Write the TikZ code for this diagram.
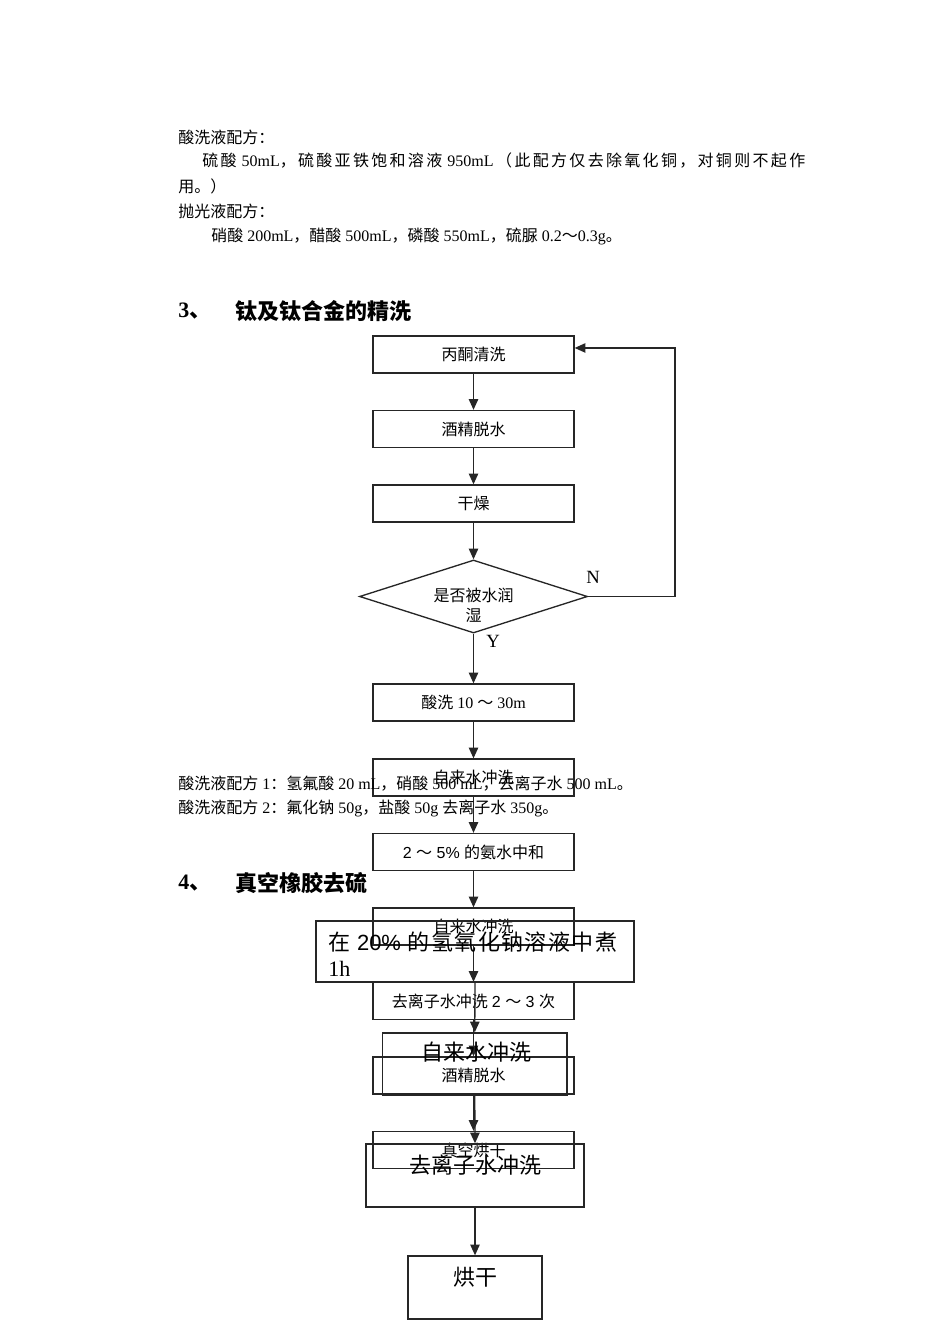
\documentclass[tikz,border=0pt]{standalone}
\usepackage{fontspec}
\setmainfont{Liberation Serif}
\newfontfamily\cjk{Noto Sans CJK SC}
\newfontfamily\arial{Liberation Sans}
\usetikzlibrary{shapes.geometric,arrows.meta}
\newcommand\zh[1]{{\cjk #1}}
\makeatletter
\newcommand\spr[1]{\@tfor\@x:=#1\do{\@x\hfil}}
\makeatother
\begin{document}
\begin{tikzpicture}[x=0.75pt,y=-0.75pt,
  lin/.style={line width=1pt,draw=black!85},
  box/.style={lin,draw,rectangle,minimum width=150.75pt,minimum height=27.75pt,inner sep=0pt,font=\fontsize{12}{14}\selectfont},
  bigbox/.style={lin,draw,rectangle,inner sep=0pt},
  dia/.style={lin,draw,diamond,inner sep=0pt,minimum width=171pt,minimum height=54.75pt},
  arr/.style={lin,-{Triangle[length=8pt,width=7pt]}},
  body/.style={anchor=west,inner sep=0pt,font=\fontsize{12}{14}\selectfont},
  head/.style={anchor=west,inner sep=0pt,font=\fontsize{16.5}{18}\selectfont\bfseries},
  bigtxt/.style={inner sep=0pt,font=\fontsize{16.5}{19.5}\selectfont},
  yn/.style={inner sep=0pt,font=\fontsize{14}{16}\selectfont}
]
\useasboundingbox (0,0) rectangle (950,1344);

% body text
\node[body] (t1) at (178,137) {\zh{酸洗液配方：}};
\node[body] (t2) at (202,161) {\makebox[452.25pt][s]{{\cjk\spr{硫酸}}\hspace{2pt}50mL{\cjk\spr{，硫酸亚铁饱和溶液}}\hspace{2pt}950mL\hspace{2pt}{\cjk\spr{（此配方仅去除氧化铜，对铜则不起}作}}};
\node[body] (t3) at (178,186) {\zh{用。）}};
\node[body] (t4) at (178,211) {\zh{抛光液配方：}};
\node[body] (t5) at (211,236) {\zh{硝酸} 200mL\zh{，醋酸} 500mL\zh{，磷酸} 550mL\zh{，硫脲} 0.2\zh{～}0.3g\zh{。}};

% heading 3
\node[head] (h3n) at (178,311) {3\zh{、}};
\node[head] (h3) at (235,311) {\zh{钛及钛合金的精洗}};

% flowchart 1
\node[box] (s1) at (473.5,354.5) {\zh{丙酮清洗}};
\node[box] (s2) at (473.5,429) {\zh{酒精脱水}};
\node[box] (s3) at (473.5,503.5) {\zh{干燥}};
\node[dia] (d) at (473.5,596.5) {};
\node[align=center,inner sep=0pt,font=\fontsize{12}{15}\selectfont] (dt) at (473.5,605) {\zh{是否被水润}\\\zh{湿}};
\node[box] (s4) at (473.5,702.5) {\zh{酸洗} 10 \zh{～} 30m};
\node[box] (s5) at (473.5,777.5) {\zh{自来水冲洗}};
\node[box] (s6) at (473.5,852) {\arial 2 \zh{～} 5\% \zh{的氨水中和}};
\node[box] (s7) at (473.5,926.5) {\zh{自来水冲洗}};
\node[box] (s8) at (473.5,1001) {\zh{去离子水冲洗} \arial 2 \zh{～} 3 \zh{次}};
\node[box] (s9) at (473.5,1075.5) {\zh{酒精脱水}};
\node[box] (s10) at (473.5,1150) {\zh{真空烘干}};
\node[yn] (n) at (593,577) {N};
\node[yn] (y) at (493,641) {Y};
\coordinate (fb) at (675,596.5);

\draw[arr] (s1) -- (s2);
\draw[arr] (s2) -- (s3);
\draw[arr] (s3) -- (d.north);
\draw[arr] (d.south) -- (s4);
\draw[arr] (s4) -- (s5);
\draw[arr] (s5) -- (s6);
\draw[arr] (s6) -- (s7);
\draw[arr] (s7) -- (s8);
\draw[arr] (s8) -- (s9);
\draw[arr] (s9) -- (s10);
\draw[arr] (d.east) -- (fb) |- ([yshift=4.9pt]s1.east);

% formula lines
\node[body] (f1) at (178,784) {\zh{酸洗液配方} 1\zh{：氢氟酸} 20 mL\zh{，硝酸} 500 mL\zh{，去离子水} 500 mL\zh{。}};
\node[body] (f2) at (178,808) {\zh{酸洗液配方} 2\zh{：氟化钠} 50g\zh{，盐酸} 50g \zh{去离子水} 350g\zh{。}};

% heading 4
\node[head] (h4n) at (178,883) {4\zh{、}};
\node[head] (h4) at (235,883) {\zh{真空橡胶去硫}};

% flowchart 2
\node[bigbox,minimum width=238.5pt,minimum height=45.75pt] (b1) at (475,951.5) {};
\node[bigtxt,anchor=west,align=left] (b1t) at (328,954) {\makebox[216.75pt][s]{{\cjk 在}\hspace{4pt}\hfil{\arial 20\%}\hspace{4pt}\hfil{\cjk\spr{的氢氧化钠溶液中}煮}}\\1h};
\node[bigbox,minimum width=138.4pt,minimum height=46.5pt] (b2) at (474.75,1064) {};
\node[bigtxt] (b2t) at (476,1052) {\zh{自来水冲洗}};
\node[bigbox,minimum width=163.5pt,minimum height=47.25pt] (b3) at (475,1175.5) {};
\node[bigtxt] (b3t) at (475,1165) {\zh{去离子水冲洗}};
\node[bigbox,minimum width=100.5pt,minimum height=47.25pt] (b4) at (475,1287.5) {};
\node[bigtxt] (b4t) at (475,1277) {\zh{烘干}};

\draw[arr] (b1.south) -- (b2.north);
\draw[arr] (b2.south) -- (b3.north);
\draw[arr] (b3.south) -- (b4.north);
\end{tikzpicture}
\end{document}
